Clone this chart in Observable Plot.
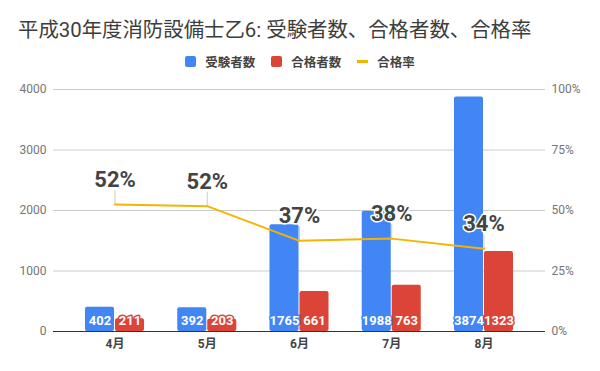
<!DOCTYPE html>
<html><head><meta charset="utf-8">
<script src="https://cdn.jsdelivr.net/npm/d3@7"></script>
<script src="https://cdn.jsdelivr.net/npm/@observablehq/plot@0.6"></script>
<style>
body{margin:0;background:#fff;font-family:Roboto,"Noto Sans CJK JP",sans-serif;}
#title{height:24px;line-height:24px;padding:18px 0 8px 18px;font-size:20.4px;color:#3d3d3d;white-space:nowrap;}
#legend{height:22px;display:flex;justify-content:center;align-items:center;font-size:12.5px;font-weight:bold;color:#444;}
.item{display:flex;align-items:center;margin:0 8px;}
.sw{width:11px;height:11px;border-radius:2px;margin-right:9px;}
.ln{width:11px;height:3px;margin-right:9px;}
#chart svg{display:block;}
</style></head>
<body>
<div id="title"></div>
<div id="legend"></div>
<div id="chart"></div>
<script>
const titleText = "平成30年度消防設備士乙6: 受験者数、合格者数、合格率";
const months = ["4月","5月","6月","7月","8月"];
const examinees = [402, 392, 1765, 1988, 3874];
const passers = [211, 203, 661, 763, 1323];
const passRate = [0.5249, 0.5179, 0.3745, 0.3838, 0.3415];
const yTicks = [0, 1000, 2000, 3000, 4000];
const pctTicks = [0, 25, 50, 75, 100];
const seriesNames = ["受験者数", "合格者数", "合格率"];
const colors = ["#4285f4", "#db4437", "#f4b400"];

document.getElementById("title").textContent = titleText;
const legend = document.getElementById("legend");
seriesNames.forEach((name, i) => {
  const item = document.createElement("div");
  item.className = "item";
  const sw = document.createElement("div");
  sw.className = i < 2 ? "sw" : "ln";
  sw.style.background = colors[i];
  const lab = document.createElement("span");
  lab.textContent = name;
  item.appendChild(sw); item.appendChild(lab);
  legend.appendChild(item);
});

const rows = months.map((m, i) => ({month: m, exam: examinees[i], pass: passers[i], rate: passRate[i]}));
const rateY = d => d.rate * 4000;

const chart = Plot.plot({
  width: 600,
  height: 299,
  marginTop: 17,
  marginBottom: 40,
  marginLeft: 53,
  marginRight: 55,
  style: {fontFamily: "Roboto, 'Noto Sans CJK JP', sans-serif", fontSize: "12px", background: "white"},
  x: {domain: months, paddingInner: 0.36, paddingOuter: 0.347, round: false},
  y: {domain: [0, 4000]},
  marks: [
    Plot.gridY(yTicks, {stroke: "#cccccc", strokeOpacity: 1}),
    Plot.vector(rows, {x: "month", y: rateY, length: 14, rotate: 0, anchor: "start",
      shape: {draw(ctx, l) { ctx.moveTo(0, 0); ctx.lineTo(0, -l); }},
      stroke: "#cccccc", strokeWidth: 1}),
    Plot.barY(rows, {x: "month", y: "exam", fill: colors[0], insetRight: 30, rx: 2}),
    Plot.barY(rows, {x: "month", y: "pass", fill: colors[1], insetLeft: 30, rx: 2}),
    Plot.ruleY([0], {stroke: "#333333"}),
    Plot.text(rows, {x: "month", y: () => 0, text: d => String(d.exam), dx: -15, dy: -7, lineAnchor: "bottom",
      fill: "white", stroke: colors[0], strokeWidth: 3, fontSize: 13, fontWeight: "bold"}),
    Plot.text(rows, {x: "month", y: () => 0, text: d => String(d.pass), dx: 15, dy: -7, lineAnchor: "bottom",
      fill: "white", stroke: colors[1], strokeWidth: 3, fontSize: 13, fontWeight: "bold"}),
    Plot.line(rows, {x: "month", y: rateY, stroke: colors[2], strokeWidth: 2}),
    Plot.text(rows, {x: "month", y: rateY, text: d => Math.round(d.rate * 100) + "%", dy: -17.5, lineAnchor: "bottom",
      fill: "#444444", stroke: "white", strokeWidth: 3, fontSize: 22, fontWeight: "bold"}),
    Plot.axisY(yTicks, {anchor: "left", tickSize: 0, tickPadding: 7, color: "#757575", fontSize: 12, label: null,
      tickFormat: d => String(d)}),
    Plot.axisY(pctTicks.map(p => p * 40), {anchor: "right", tickSize: 0, tickPadding: 6, color: "#757575", fontSize: 12,
      tickFormat: d => (d / 40) + "%", label: null}),
    Plot.axisX({tickSize: 0, tickPadding: 8, color: "#444444", fontSize: 12, fontWeight: "bold", label: null})
  ]
});
document.getElementById("chart").appendChild(chart);
</script>
</body></html>
